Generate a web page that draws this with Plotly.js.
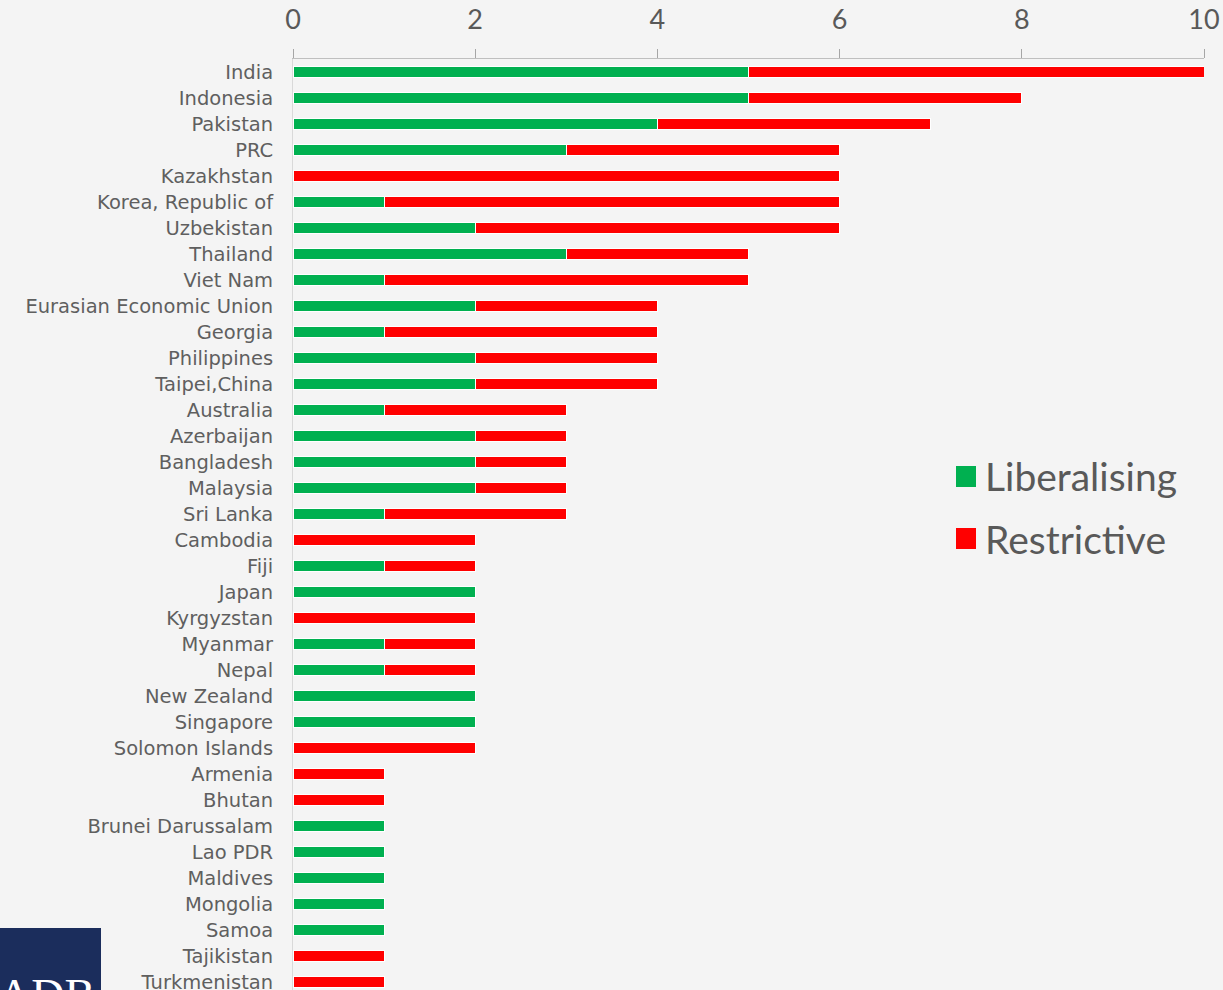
<!DOCTYPE html>
<html><head><meta charset="utf-8">
<script src="https://cdn.plot.ly/plotly-3.0.1.min.js"></script>
<style>html,body{margin:0;padding:0;background:#f4f4f4;}</style>
</head><body>
<div id="chart" style="width:1223px;height:990px;"></div>
<script>
const countries = ["India","Indonesia","Pakistan","PRC","Kazakhstan","Korea, Republic of","Uzbekistan","Thailand","Viet Nam","Eurasian Economic Union","Georgia","Philippines","Taipei,China","Australia","Azerbaijan","Bangladesh","Malaysia","Sri Lanka","Cambodia","Fiji","Japan","Kyrgyzstan","Myanmar","Nepal","New Zealand","Singapore","Solomon Islands","Armenia","Bhutan","Brunei Darussalam","Lao PDR","Maldives","Mongolia","Samoa","Tajikistan","Turkmenistan"];
const liberalising = [5,5,4,3,0,1,2,3,1,2,1,2,2,1,2,2,2,1,0,1,2,0,1,1,2,2,0,0,0,1,1,1,1,1,0,0];
const restrictive  = [5,3,3,3,6,5,4,2,4,2,3,2,2,2,1,1,1,2,2,1,0,2,1,1,0,0,2,1,1,0,0,0,0,0,1,1];
const xTicks = [0,2,4,6,8,10];
const seriesNames = ["Liberalising","Restrictive"];
const seriesColors = ["#00b050","#ff0000"];

const font = "Lato, 'Open Sans', sans-serif";
const labelFont = "'DejaVu Sans', sans-serif";
const txt = "#595959";
const L = 293, R = 1204, T = 59, B = 990, W = 1223;
const px2x = p => (p - L) / (R - L);
const py2y = p => 1 - (p - T) / (B - T);

const traces = [liberalising, restrictive].map((vals, i) => ({
  type: "bar", orientation: "h", y: countries, x: vals, name: seriesNames[i],
  marker: {color: seriesColors[i], line: {color: "#ffffff", width: 1}},
  hoverinfo: "x+y+name"
}));

const shapes = [
  {type:"rect", xref:"paper", yref:"paper", x0:px2x(0), x1:px2x(101), y0:py2y(928), y1:py2y(990), fillcolor:"#1b2d5c", line:{width:0}, layer:"above"},
  {type:"rect", xref:"paper", yref:"paper", x0:px2x(956), x1:px2x(976), y0:py2y(466), y1:py2y(487), fillcolor:seriesColors[0], line:{width:0}},
  {type:"rect", xref:"paper", yref:"paper", x0:px2x(956), x1:px2x(976), y0:py2y(528), y1:py2y(549), fillcolor:seriesColors[1], line:{width:0}}
];
const annotations = [
  {xref:"paper", yref:"paper", x:px2x(983), y:py2y(476), text:seriesNames[0], showarrow:false, xanchor:"left", yanchor:"middle", font:{family:font, size:39, color:txt}},
  {xref:"paper", yref:"paper", x:px2x(983), y:py2y(539), text:seriesNames[1], showarrow:false, xanchor:"left", yanchor:"middle", font:{family:font, size:39, color:txt}},
  {xref:"paper", yref:"paper", x:px2x(-4), y:py2y(968), text:"ADB", showarrow:false, xanchor:"left", yanchor:"top", font:{family:"'Liberation Serif', serif", size:46, color:"#ffffff"}}
];

const layout = {
  width: W, height: 990,
  margin: {l: L, r: W - R, t: T, b: 0, pad: 0},
  paper_bgcolor: "#f4f4f4", plot_bgcolor: "#f4f4f4",
  barmode: "stack", bargap: 0.58,
  showlegend: false,
  xaxis: {side: "top", range: [0, 10], tickvals: xTicks, ticktext: xTicks.map(String),
    ticks: "outside", ticklen: 9, tickcolor: "#a6a6a6", tickwidth: 1,
    showline: true, linecolor: "#bfbfbf", linewidth: 1, showgrid: false, zeroline: false,
    ticklabelstandoff: 9,
    tickfont: {family: font, size: 27, color: txt}, fixedrange: true},
  yaxis: {type: "category", autorange: false, range: [35.32, -0.49],
    showline: true, linecolor: "#d9d9d9", linewidth: 1, showgrid: false, zeroline: false,
    ticks: "", ticklabelstandoff: 15,
    tickfont: {family: labelFont, size: 19.5, color: "#5f5f5f"}, fixedrange: true},
  shapes: shapes, annotations: annotations
};
Plotly.newPlot("chart", traces, layout, {displayModeBar: false, staticPlot: true});
</script>
</body></html>
